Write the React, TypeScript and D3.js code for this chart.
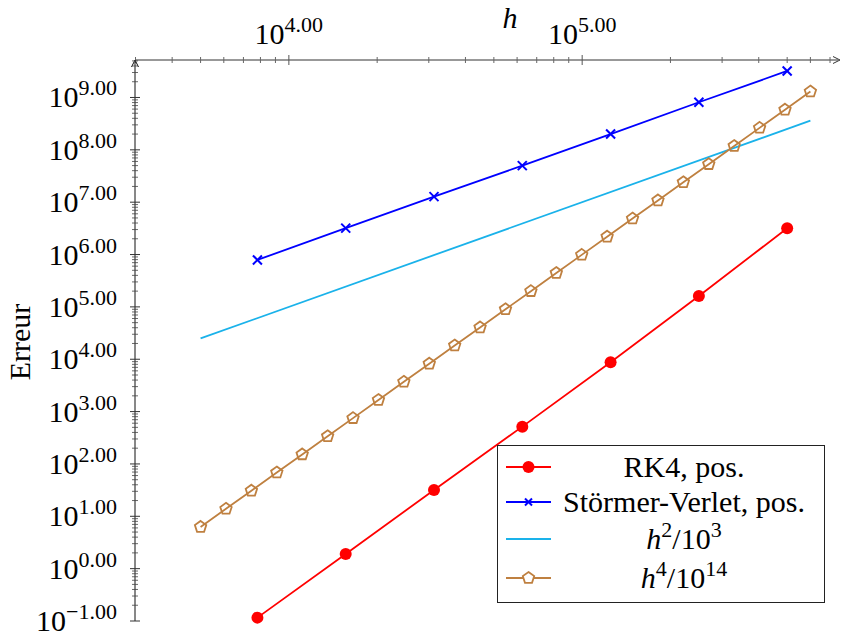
import React from "react";
import * as d3 from "d3";

// ---- data ----
const hSteps = [7812.5, 15625, 31250, 62500, 125000, 250000, 500000];
const rk4Err = [0.116, 1.91, 31.8, 516, 8770, 1.62e5, 3.18e6];
const svErr = [7.89e5, 3.19e6, 1.276e7, 4.99e7, 2.0e8, 8.11e8, 3.21e9];

const refH2X = [5000, 600000];
const refH2Y = [25000, 3.6e8];

const refH4X = [
  5000, 6104, 7451, 9096, 11103, 13557, 16549, 20203, 24662, 30109, 36754, 44866,
  54773, 66865, 81628, 99648, 121650, 148500, 181310, 221310, 270190, 329870,
  402650, 491500, 600000,
];
const refH4Y = [
  6.25, 13.88, 30.83, 68.47, 152.1, 337.8, 750.2, 1666, 3700, 8217, 18249, 40527,
  90000, 199880, 443940, 985940, 2.1897e6, 4.8629e6, 1.08e7, 2.3988e7, 5.327e7,
  1.1831e8, 2.628e8, 5.836e8, 1.296e9,
];

const xTickValues = [1e4, 1e5];
const xTickLabels = ["4.00", "5.00"];
const yTickValues = [0.1, 1, 10, 100, 1e3, 1e4, 1e5, 1e6, 1e7, 1e8, 1e9];
const yTickLabels = ["\u22121.00", "0.00", "1.00", "2.00", "3.00", "4.00", "5.00", "6.00", "7.00", "8.00", "9.00"];

const legendNames = ["RK4, pos.", "Störmer-Verlet, pos.", "h2", "h4"];

const RED = "#ff0000";
const BLUE = "#0000ff";
const CYAN = "#1ab2ea";
const BROWN = "#bf8040";
const FONT = "Liberation Serif, Times New Roman, serif";
const TXT: React.CSSProperties = { fontFamily: FONT };

function pentagon(cx: number, cy: number, r: number) {
  const pts: string[] = [];
  for (let k = 0; k < 5; k++) {
    const a = (-90 + 72 * k) * (Math.PI / 180);
    pts.push(`${cx + r * Math.cos(a)},${cy + r * Math.sin(a)}`);
  }
  return pts.join(" ");
}

function Cross({ cx, cy, s = 4.5, color }: { cx: number; cy: number; s?: number; color: string }) {
  return (
    <g stroke={color} strokeWidth={2}>
      <line x1={cx - s} y1={cy - s} x2={cx + s} y2={cy + s} />
      <line x1={cx - s} y1={cy + s} x2={cx + s} y2={cy - s} />
    </g>
  );
}

export default function App() {
  const x = d3.scaleLog().domain([2988, 757000]).range([135, 840]);
  const y = d3.scaleLog().domain([0.1, 5.2e9]).range([621, 60]);
  const line = d3
    .line<[number, number]>()
    .x((d) => x(d[0]))
    .y((d) => y(d[1]));

  const axisY = 60;
  const axisX = 135;

  const xMinor: number[] = [];
  for (let e = 3; e <= 5; e++) {
    for (let m = 2; m <= 9; m++) {
      const v = m * Math.pow(10, e);
      if (v >= x.domain()[0] && v <= x.domain()[1]) xMinor.push(v);
    }
  }
  const yMinor: number[] = [];
  for (let e = -1; e <= 9; e++) {
    for (let m = 2; m <= 9; m++) {
      const v = m * Math.pow(10, e);
      if (v >= y.domain()[0] && v <= y.domain()[1]) yMinor.push(v);
    }
  }

  const rkData = hSteps.map((h, i) => [h, rk4Err[i]] as [number, number]);
  const svData = hSteps.map((h, i) => [h, svErr[i]] as [number, number]);
  const h2Data = refH2X.map((h, i) => [h, refH2Y[i]] as [number, number]);
  const h4Data = refH4X.map((h, i) => [h, refH4Y[i]] as [number, number]);

  const legRows = [467, 502, 539, 578];
  const legX1 = 506, legX2 = 551, legMid = 528.5, legText = 684;
  const SUP = 22;

  return (
    <svg
      width={841}
      height={637}
      style={{ position: "absolute", left: 0, top: 0, background: "#fff", fontFamily: FONT }}
    >
      <rect x={0} y={0} width={841} height={637} fill="#fff" />

      {/* x axis (top) */}
      <line x1={axisX} y1={axisY} x2={838} y2={axisY} stroke="#333" strokeWidth={1} />
      <path d={`M${833},${axisY - 3.5} L${840},${axisY} L${833},${axisY + 3.5}`} fill="none" stroke="#333" strokeWidth={1} />
      {xMinor.map((v, i) => (
        <line key={"xm" + i} x1={x(v)} x2={x(v)} y1={axisY - 3} y2={axisY + 3} stroke="#666" strokeWidth={1} />
      ))}
      {xTickValues.map((v, i) => (
        <line key={"xM" + i} x1={x(v)} x2={x(v)} y1={axisY - 5} y2={axisY + 5} stroke="#555" strokeWidth={1} />
      ))}
      {xTickValues.map((v, i) => (
        <text key={"xl" + i} x={x(v)} y={44} textAnchor="middle" fontSize={30} fill="#000" style={TXT}>
          10<tspan dy={-12} fontSize={SUP}>{xTickLabels[i]}</tspan>
        </text>
      ))}
      <text x={510} y={28} textAnchor="middle" fontSize={30} fontStyle="italic" fill="#000" style={TXT}>h</text>

      {/* y axis (left) */}
      <line x1={axisX} y1={621} x2={axisX} y2={62} stroke="#111" strokeWidth={1} />
      <path d={`M${axisX - 3.5},${67} L${axisX},${60} L${axisX + 3.5},${67}`} fill="none" stroke="#111" strokeWidth={1} />
      {yMinor.map((v, i) => (
        <line key={"ym" + i} x1={axisX - 3} x2={axisX + 3} y1={y(v)} y2={y(v)} stroke="#444" strokeWidth={0.8} />
      ))}
      {yTickValues.map((v, i) => (
        <line key={"yM" + i} x1={axisX - 5} x2={axisX + 5} y1={y(v)} y2={y(v)} stroke="#333" strokeWidth={1} />
      ))}
      {yTickValues.map((v, i) => (
        <text key={"yl" + i} x={117} y={y(v) + 10} textAnchor="end" fontSize={30} fill="#000" style={TXT}>
          10<tspan dy={-12} fontSize={SUP}>{yTickLabels[i]}</tspan>
        </text>
      ))}
      <text transform="translate(30,342) rotate(-90)" textAnchor="middle" fontSize={30} fill="#000" style={TXT}>Erreur</text>

      {/* series */}
      <path d={line(h2Data) || ""} fill="none" stroke={CYAN} strokeWidth={1.8} />
      <path d={line(h4Data) || ""} fill="none" stroke={BROWN} strokeWidth={1.8} />
      {h4Data.map((d, i) => (
        <polygon key={"p" + i} points={pentagon(x(d[0]), y(d[1]), 6)} fill="none" stroke={BROWN} strokeWidth={1.8} />
      ))}
      <path d={line(svData) || ""} fill="none" stroke={BLUE} strokeWidth={1.8} />
      {svData.map((d, i) => (
        <Cross key={"c" + i} cx={x(d[0])} cy={y(d[1])} color={BLUE} />
      ))}
      <path d={line(rkData) || ""} fill="none" stroke={RED} strokeWidth={1.8} />
      {rkData.map((d, i) => (
        <circle key={"r" + i} cx={x(d[0])} cy={y(d[1])} r={6} fill={RED} />
      ))}

      {/* legend */}
      <rect x={497.5} y={445.5} width={327} height={157} fill="#fff" stroke="#222" strokeWidth={1} />
      <line x1={legX1} x2={legX2} y1={legRows[0]} y2={legRows[0]} stroke={RED} strokeWidth={1.8} />
      <circle cx={legMid} cy={legRows[0]} r={6} fill={RED} />
      <line x1={legX1} x2={legX2} y1={legRows[1]} y2={legRows[1]} stroke={BLUE} strokeWidth={1.8} />
      <Cross cx={legMid} cy={legRows[1]} s={3.5} color={BLUE} />
      <line x1={legX1} x2={legX2} y1={legRows[2]} y2={legRows[2]} stroke={CYAN} strokeWidth={1.8} />
      <line x1={legX1} x2={legX2} y1={legRows[3]} y2={legRows[3]} stroke={BROWN} strokeWidth={1.8} />
      <polygon points={pentagon(legMid, legRows[3], 6)} fill="#fff" stroke={BROWN} strokeWidth={1.8} />

      <text x={legText} y={legRows[0] + 10} textAnchor="middle" fontSize={30} style={TXT}>{legendNames[0]}</text>
      <text x={legText} y={legRows[1] + 10} textAnchor="middle" fontSize={30} style={TXT}>{legendNames[1]}</text>
      <text x={legText} y={legRows[2] + 10} textAnchor="middle" fontSize={30} style={TXT}>
        <tspan fontStyle="italic">h</tspan>
        <tspan dy={-12} fontSize={SUP}>2</tspan>
        <tspan dy={12}>/10</tspan>
        <tspan dy={-12} fontSize={SUP}>3</tspan>
      </text>
      <text x={legText} y={legRows[3] + 10} textAnchor="middle" fontSize={30} style={TXT}>
        <tspan fontStyle="italic">h</tspan>
        <tspan dy={-12} fontSize={SUP}>4</tspan>
        <tspan dy={12}>/10</tspan>
        <tspan dy={-12} fontSize={SUP}>14</tspan>
      </text>
    </svg>
  );
}
